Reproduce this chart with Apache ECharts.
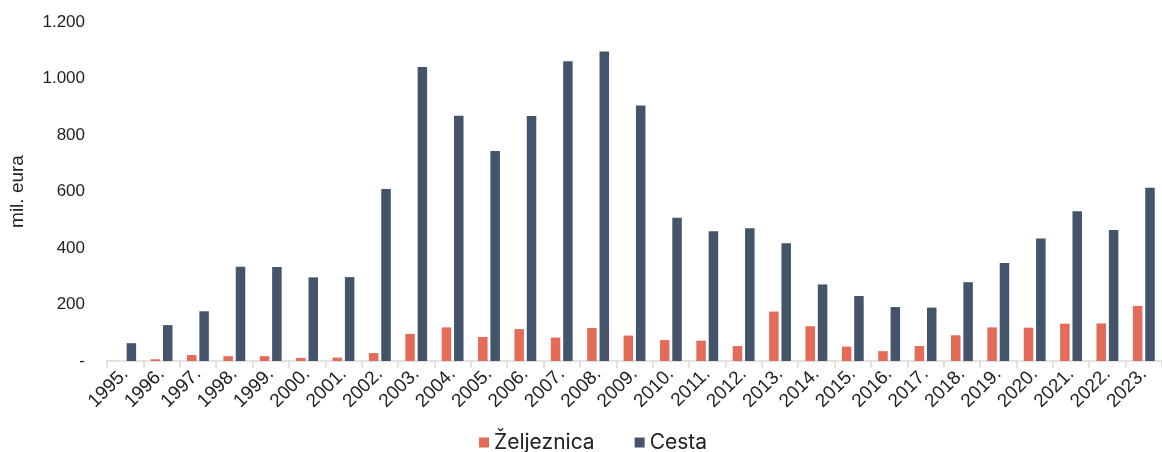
<!DOCTYPE html>
<html>
<head>
<meta charset="utf-8">
<script src="https://cdn.jsdelivr.net/npm/echarts@6/dist/echarts.min.js"></script>
<style>
html,body{margin:0;padding:0;background:#fff;}
#chart{width:1162px;height:452px;}
</style>
</head>
<body>
<div id="chart"></div>
<script>
const years = ['1995.','1996.','1997.','1998.','1999.','2000.','2001.','2002.','2003.','2004.','2005.','2006.','2007.','2008.','2009.','2010.','2011.','2012.','2013.','2014.','2015.','2016.','2017.','2018.','2019.','2020.','2021.','2022.','2023.'];
const zeljeznica = [0,6,21,17,17,11,12,28,96,119,85,113,83,117,90,74,72,53,175,123,51,35,53,91,119,118,132,133,195];
const cesta = [63,127,176,334,333,296,297,609,1041,868,743,867,1061,1096,904,507,459,470,417,271,230,191,189,279,347,434,530,464,613];
const yTicks = {min:0, max:1200, interval:200};
const seriesNames = ['Željeznica', 'Cesta'];

const chart = echarts.init(document.getElementById('chart'), null, {renderer:'canvas'});
const font = 'Liberation Sans, Arial, sans-serif';
chart.setOption({
  animation:false,
  grid:{left:107, right:-8, top:22, bottom:91, containLabel:false},
  legend:{
    data:seriesNames,
    bottom:-6, left:474,
    itemWidth:10, itemHeight:10, itemGap:40,
    icon:'rect',
    textStyle:{fontFamily:'Inter, Roboto, sans-serif', fontSize:21, color:'#222'}
  },
  xAxis:{
    type:'category',
    data:years,
    axisLine:{lineStyle:{color:'#d9d9d9', width:1.5}},
    axisTick:{show:true, alignWithLabel:false, length:7, lineStyle:{color:'#d9d9d9', width:1.5}},
    axisLabel:{rotate:45, fontFamily:font, fontSize:19, color:'#222', margin:10, interval:0}
  },
  yAxis:{
    type:'value',
    min:yTicks.min, max:yTicks.max, interval:yTicks.interval,
    name:'mil. eura', nameLocation:'middle', nameGap:80,
    nameTextStyle:{fontFamily:font, fontSize:19, color:'#222'},
    splitLine:{show:false},
    axisLine:{show:false}, axisTick:{show:false},
    axisLabel:{fontFamily:font, fontSize:17, color:'#222', margin:22,
      formatter:function(v){ if(v===0) return '-'; return String(v).replace(/\B(?=(\d{3})+(?!\d))/g,'.'); }}
  },
  series:[
    {name:seriesNames[0], type:'bar', data:zeljeznica, barWidth:9.5, barGap:'30%', itemStyle:{color:'#E46B57'}},
    {name:seriesNames[1], type:'bar', data:cesta, barWidth:9.5, barGap:'30%', itemStyle:{color:'#44546A'}}
  ]
});
</script>
</body>
</html>
